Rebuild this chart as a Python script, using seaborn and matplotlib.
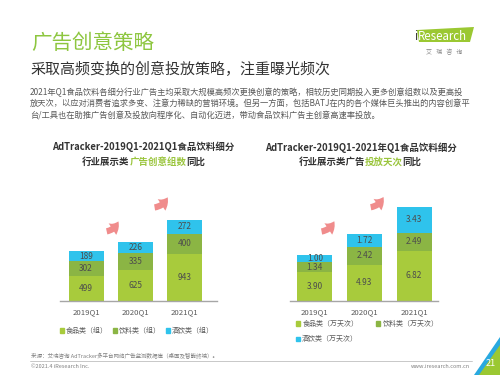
import numpy as np
import pandas as pd
import seaborn as sns
import matplotlib
matplotlib.use('Agg')
import matplotlib.pyplot as plt
from matplotlib.patches import Polygon, Patch, FancyArrowPatch
from matplotlib.lines import Line2D

sns.set_style('white')
plt.rcParams['font.family'] = ['Noto Sans CJK SC', 'DejaVu Sans']

quarters = ['2019Q1', '2020Q1', '2021Q1']
groups_food = [499, 625, 943]
groups_bev = [302, 335, 400]
groups_alc = [189, 226, 272]
days_food = [3.90, 4.93, 6.82]
days_bev = [1.34, 2.42, 2.49]
days_alc = [1.00, 1.72, 3.43]

legend_groups = ['食品类（组）', '饮料类（组）', '酒饮类（组）']
legend_days = ['食品类（万天次）', '饮料类（万天次）', '酒饮类（万天次）']

c_food = '#A8CB3C'
c_bev = '#8BB544'
c_alc = '#2FC3EC'
green = '#8DC63F'
dark = '#333333'
gray = '#595959'

W, H = 500, 375
fig = plt.figure(figsize=(5, 3.75), dpi=100)


def px(x, y):
    return (x / W, 1 - y / H)


# header
fig.text(*px(31, 43), '广告创意策略', fontsize=14.8, color=green, va='center', ha='left',
         fontweight='light')
fig.text(*px(30, 69), '采取高频变换的创意投放策略，注重曝光频次', fontsize=10.8, color=dark,
         va='center', ha='left')
para = ['2021年Q1食品饮料各细分行业广告主均采取大规模高频次更换创意的策略，相较历史同期投入更多创意组数以及更高投',
        '放天次，以应对消费者追求多变、注意力稀缺的营销环境。但另一方面，包括BATJ在内的各个媒体巨头推出的内容创意平',
        '台/工具也在助推广告创意及投放向程序化、自动化迈进，带动食品饮料广告主创意高速率投放。']
for i, line in enumerate(para):
    fig.text(*px(30, 92 + i * 11.7), line, fontsize=5.95, color=gray, va='center', ha='left')

# logo
fig.add_artist(Polygon([px(417, 30), px(474, 27), px(470, 42), px(419, 42)],
                       closed=True, transform=fig.transFigure, color='#9BC832', lw=0))
fig.text(*px(414, 36), 'i', fontsize=8.3, color='#333333', va='center', ha='left')
fig.text(*px(417.5, 36), 'Research', fontsize=8.3, color='white', va='center', ha='left')
fig.text(*px(444, 52), '艾   瑞   咨   询', fontsize=4.3, color='#888888', va='center', ha='center')


def stacked(ax, food, bev, alc, fmt, ylim, xlim):
    df = pd.DataFrame({'quarter': quarters, 'food': food, 'bev': bev, 'alc': alc})
    df['fb'] = df['food'] + df['bev']
    df['total'] = df['fb'] + df['alc']
    for col, c in [('total', c_alc), ('fb', c_bev), ('food', c_food)]:
        sns.barplot(data=df, x='quarter', y=col, color=c, saturation=1, width=0.71,
                    linewidth=0, ax=ax, errorbar=None)
    for i, r in df.iterrows():
        for lo, v in [(0, r['food']), (r['food'], r['bev']), (r['fb'], r['alc'])]:
            ax.text(i, lo + v / 2, fmt.format(v), ha='center', va='center', fontsize=6,
                    color='#4d4d4d')
    ax.set_ylim(0, ylim)
    ax.set_xlim(*xlim)
    ax.set_xlabel('')
    ax.set_ylabel('')
    ax.set_yticks([])
    for s in ['top', 'left', 'right']:
        ax.spines[s].set_visible(False)
    ax.spines['bottom'].set_color('#A6A6A6')
    ax.spines['bottom'].set_linewidth(1)
    ax.tick_params(axis='x', length=0, labelsize=5.6, labelcolor=gray, pad=5)
    ax.patch.set_alpha(0)


def arrow(ax, p0, p1):
    a = FancyArrowPatch(p0, p1, arrowstyle='simple,head_width=10,head_length=7,tail_width=4.5',
                        connectionstyle='arc3,rad=0.35', color='#F08C8C', lw=0,
                        mutation_scale=1, transform=ax.transData)
    ax.add_patch(a)


ax1 = fig.add_axes([60 / W, 74 / H, 157 / W, 116 / H])
stacked(ax1, groups_food, groups_bev, groups_alc, '{:.0f}', 2313, (-0.53, 2.65))
arrow(ax1, (0.36, 1380), (0.67, 1640))
arrow(ax1, (1.33, 1860), (1.67, 2120))

ax2 = fig.add_axes([290 / W, 74 / H, 148 / W, 116 / H])
stacked(ax2, days_food, days_bev, days_alc, '{:.2f}', 15.77, (-0.5, 2.48))
arrow(ax2, (0.08, 9.4), (0.41, 11.2))
arrow(ax2, (1.07, 12.7), (1.40, 14.5))

# chart titles
title_size = 6.8
fig.text(*px(143.5, 147), 'AdTracker-2019Q1-2021Q1食品饮料细分', fontsize=title_size,
         fontweight='bold', color=dark, ha='center', va='center')
fig.text(*px(360.5, 148), 'AdTracker-2019Q1-2021年Q1食品饮料细分', fontsize=title_size,
         fontweight='bold', color=dark, ha='center', va='center')


def rich(cx, y, parts):
    # every glyph here is full width, so each piece advances one em per character
    em = title_size * 100 / 72
    n = sum(len(s) for s, _ in parts)
    x = cx - n * em / 2
    for s, c in parts:
        fig.text(x / W, 1 - y / H, s, fontsize=title_size, fontweight='bold', color=c,
                 va='baseline', ha='left')
        x += len(s) * em


rich(143.5, 165, [('行业展示类', dark), ('广告创意组数', '#9AC53C'), ('同比', dark)])
rich(360, 165, [('行业展示类广告', dark), ('投放天次', '#9AC53C'), ('同比', dark)])

# legends
h1 = [Patch(color=c) for c in [c_food, c_bev, c_alc]]
fig.legend(h1, legend_groups, loc='center', bbox_to_anchor=px(137, 331), ncol=3, frameon=False,
           fontsize=5.0, handlelength=0.6, handleheight=0.6, handletextpad=0.3, columnspacing=0.7,
           labelcolor=gray, borderaxespad=0, borderpad=0)
fig.legend([h1[0], h1[2], h1[1]], [legend_days[0], legend_days[2], legend_days[1]],
           loc='upper left', bbox_to_anchor=px(296, 320), ncol=2, frameon=False,
           fontsize=5.0, handlelength=0.6, handleheight=0.6, handletextpad=0.3, columnspacing=2.6,
           labelspacing=1.05, labelcolor=gray, borderaxespad=0, borderpad=0)

# footer
fig.text(*px(31, 356), '来源：艾瑞咨询 AdTracker多平台网络广告监测数据库（桌面及智能终端）。', fontsize=4,
         color='#808080', ha='left', va='center')
fig.add_artist(Line2D([30 / W, 472 / W], [1 - 361 / H, 1 - 361 / H], color='#BFBFBF', lw=0.6))
fig.text(*px(31, 367), '©2021.4 iResearch Inc.', fontsize=4, color='#808080', ha='left', va='center')
fig.text(*px(470, 366), 'www.iresearch.com.cn', fontsize=4, color='#808080', ha='right', va='center')

# corner
fig.add_artist(Polygon([px(474, 375), px(500, 337), px(500, 375)], closed=True,
                       transform=fig.transFigure, color='#29A9E0', lw=0))
fig.add_artist(Polygon([px(479, 375), px(500, 345), px(500, 375)], closed=True,
                       transform=fig.transFigure, color='#9BC832', lw=0))
fig.text(*px(491, 364), '21', fontsize=6.5, color='white', ha='center', va='center')

fig.savefig('out.png', dpi=100)
